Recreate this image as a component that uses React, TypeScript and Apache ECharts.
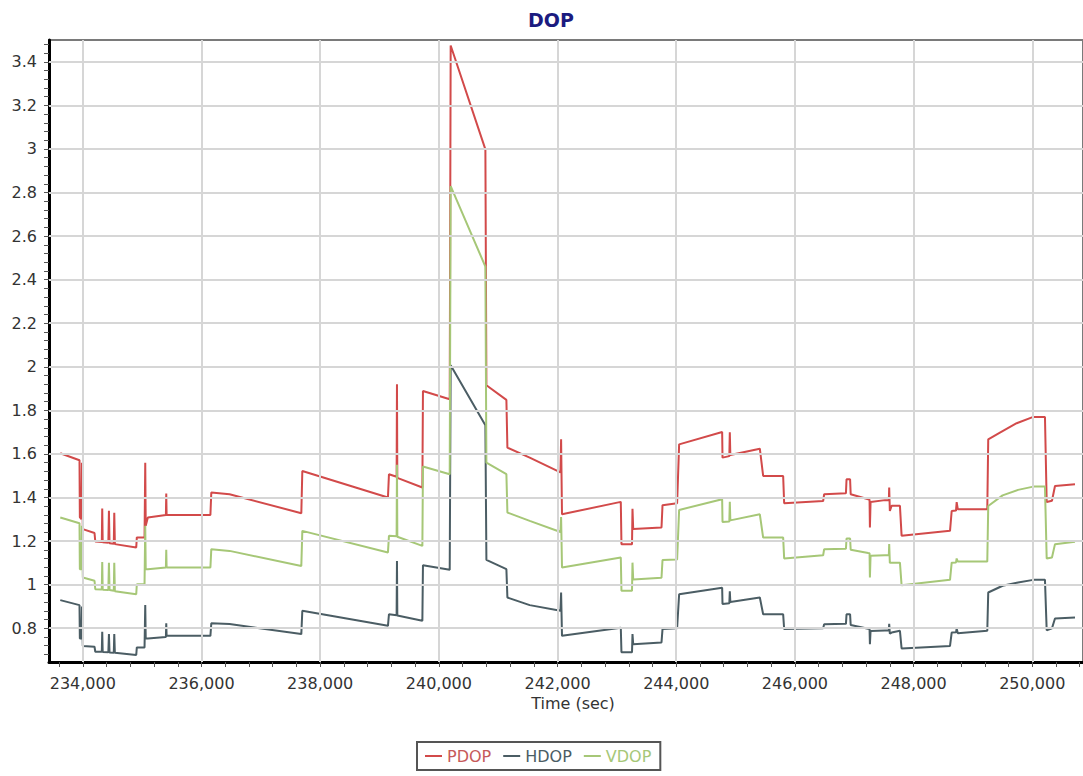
import React, { useEffect, useRef } from "react";
import * as echarts from "echarts";

// ---- data (time in seconds, DOP values) ----
const pdop: [number, number][] = [
  [233620, 1.603], [233944, 1.571], [233950, 1.31], [233975, 1.30], [233985, 1.56], [234000, 1.255],
  [234197, 1.237], [234210, 1.198], [234320, 1.196], [234327, 1.35], [234335, 1.195], [234430, 1.192],
  [234440, 1.339], [234450, 1.19], [234522, 1.188], [234530, 1.33], [234540, 1.186], [234900, 1.171],
  [234910, 1.217], [235040, 1.217], [235052, 1.56], [235060, 1.27], [235096, 1.308], [235400, 1.32],
  [235406, 1.418], [235412, 1.32], [236150, 1.32], [236165, 1.423], [236473, 1.415], [237682, 1.328],
  [237699, 1.522], [239142, 1.40], [239159, 1.507], [239288, 1.495], [239294, 1.92], [239300, 1.49],
  [239722, 1.446], [239732, 1.889], [240183, 1.851], [240199, 3.475], [240784, 2.998], [240801, 1.915],
  [241138, 1.848], [241155, 1.629], [241531, 1.583], [242049, 1.515], [242060, 1.667], [242075, 1.323],
  [243066, 1.38], [243077, 1.186], [243255, 1.186], [243263, 1.348], [243275, 1.255], [243752, 1.262],
  [243769, 1.365], [244015, 1.374], [244049, 1.644], [244774, 1.701], [244780, 1.583], [244895, 1.59],
  [244903, 1.70], [244912, 1.595], [245409, 1.624], [245465, 1.499], [245802, 1.499], [245819, 1.374],
  [246476, 1.384], [246493, 1.415], [246860, 1.42], [246870, 1.484], [246930, 1.484], [246940, 1.415],
  [247235, 1.392], [247258, 1.39], [247264, 1.262], [247275, 1.379], [247517, 1.388], [247583, 1.388],
  [247589, 1.446], [247600, 1.338], [247630, 1.362], [247770, 1.362], [247798, 1.225], [248614, 1.247],
  [248642, 1.338], [248715, 1.34], [248726, 1.379], [248745, 1.346], [249242, 1.346], [249258, 1.667],
  [249455, 1.698], [249737, 1.741], [250017, 1.77], [250214, 1.77], [250243, 1.379], [250332, 1.385],
  [250383, 1.453], [250720, 1.461],
];

const hdop: [number, number][] = [
  [233620, 0.929], [233944, 0.906], [233950, 0.753], [233975, 0.753], [233985, 0.90], [234000, 0.719],
  [234197, 0.715], [234210, 0.692], [234320, 0.692], [234327, 0.784], [234335, 0.691], [234430, 0.69],
  [234440, 0.773], [234450, 0.689], [234522, 0.688], [234530, 0.773], [234540, 0.687], [234900, 0.677],
  [234910, 0.712], [235040, 0.712], [235052, 0.906], [235060, 0.753], [235096, 0.753], [235400, 0.76],
  [235406, 0.823], [235412, 0.765], [236150, 0.765], [236165, 0.823], [236473, 0.819], [237682, 0.773],
  [237699, 0.88], [239142, 0.811], [239159, 0.864], [239288, 0.86], [239294, 1.109], [239300, 0.858],
  [239722, 0.834], [239732, 1.089], [240183, 1.068], [240199, 2.007], [240784, 1.732], [240801, 1.114],
  [241138, 1.071], [241155, 0.941], [241531, 0.906], [242049, 0.88], [242060, 0.964], [242075, 0.765],
  [243066, 0.802], [243077, 0.69], [243255, 0.69], [243263, 0.773], [243275, 0.727], [243752, 0.735],
  [243769, 0.796], [244015, 0.80], [244049, 0.956], [244774, 0.986], [244780, 0.911], [244895, 0.915],
  [244903, 0.97], [244912, 0.92], [245409, 0.941], [245465, 0.864], [245802, 0.864], [245819, 0.796],
  [246476, 0.80], [246493, 0.818], [246860, 0.82], [246870, 0.864], [246930, 0.864], [246940, 0.815],
  [247235, 0.798], [247258, 0.797], [247264, 0.727], [247275, 0.787], [247517, 0.79], [247583, 0.79],
  [247589, 0.82], [247600, 0.775], [247630, 0.78], [247770, 0.788], [247798, 0.707], [248614, 0.719],
  [248642, 0.78], [248715, 0.781], [248726, 0.799], [248745, 0.777], [249242, 0.788], [249258, 0.964],
  [249500, 0.995], [249760, 1.01], [250017, 1.022], [250214, 1.022], [250243, 0.791], [250332, 0.80],
  [250383, 0.845], [250720, 0.849],
];

const vdop: [number, number][] = [
  [233620, 1.308], [233944, 1.282], [233950, 1.071], [233975, 1.071], [233985, 1.27], [234000, 1.033],
  [234197, 1.018], [234210, 0.979], [234320, 0.978], [234327, 1.104], [234335, 0.977], [234430, 0.976],
  [234440, 1.10], [234450, 0.975], [234522, 0.972], [234530, 1.10], [234540, 0.97], [234900, 0.956],
  [234910, 1.002], [235040, 1.002], [235052, 1.27], [235060, 1.071], [235096, 1.071], [235400, 1.079],
  [235406, 1.16], [235412, 1.079], [236150, 1.079], [236165, 1.163], [236473, 1.155], [237682, 1.086],
  [237699, 1.247], [239142, 1.148], [239159, 1.224], [239288, 1.222], [239294, 1.55], [239300, 1.22],
  [239722, 1.178], [239732, 1.542], [240183, 1.507], [240199, 2.829], [240784, 2.46], [240801, 1.56],
  [241138, 1.507], [241155, 1.331], [241531, 1.293], [242049, 1.242], [242060, 1.31], [242075, 1.079],
  [243066, 1.125], [243077, 0.972], [243255, 0.972], [243263, 1.101], [243275, 1.024], [243752, 1.032],
  [243769, 1.113], [244015, 1.116], [244049, 1.343], [244774, 1.392], [244780, 1.288], [244895, 1.29],
  [244903, 1.38], [244912, 1.295], [245409, 1.323], [245465, 1.216], [245802, 1.216], [245819, 1.12],
  [246476, 1.135], [246493, 1.163], [246860, 1.165], [246870, 1.212], [246930, 1.212], [246940, 1.16],
  [247235, 1.145], [247258, 1.144], [247264, 1.033], [247275, 1.133], [247517, 1.135], [247583, 1.135],
  [247589, 1.186], [247600, 1.10], [247630, 1.101], [247770, 1.101], [247798, 0.997], [248614, 1.022],
  [248642, 1.101], [248715, 1.102], [248726, 1.12], [248745, 1.106], [249242, 1.106], [249258, 1.361],
  [249500, 1.41], [249760, 1.435], [250017, 1.45], [250214, 1.45], [250243, 1.12], [250332, 1.125],
  [250383, 1.186], [250720, 1.197],
];

// ---- axis ticks ----
const xLabelValues = [234000, 236000, 238000, 240000, 242000, 244000, 246000, 248000, 250000];
const yLabelValues = [0.8, 1, 1.2, 1.4, 1.6, 1.8, 2, 2.2, 2.4, 2.6, 2.8, 3, 3.2, 3.4];
const X_MIN = 233430;
const X_MAX = 250855;
const Y_MIN = 0.645;
const Y_MAX = 3.5;

const xMinorTicks: number[] = [];
for (let v = 233600; v <= X_MAX; v += 400) xMinorTicks.push(v);
const yMinorTicks: number[] = [];
for (let i = 17; i * 0.04 <= Y_MAX; i++) yMinorTicks.push(Math.round(i * 0.04 * 100) / 100);

const COLORS = { PDOP: "#d24a4a", HDOP: "#4b5d64", VDOP: "#a6c777" };
const FONT = "DejaVu Sans";

export default function App() {
  const ref = useRef<HTMLDivElement>(null);
  useEffect(() => {
    if (!ref.current) return;
    const chart = echarts.init(ref.current, undefined, { renderer: "svg" });
    const lineSeries = (name: "PDOP" | "HDOP" | "VDOP", data: [number, number][]) => ({
      name,
      type: "line",
      data,
      showSymbol: false,
      symbol: "none",
      z: 3,
      lineStyle: { color: COLORS[name], width: 2 },
      itemStyle: { color: COLORS[name] },
    });
    chart.setOption({
      animation: false,
      title: {
        text: "DOP",
        left: 523,
        top: 5,
        textStyle: { color: "#1b1b80", fontWeight: "bold", fontSize: 19, fontFamily: FONT },
      },
      grid: {
        left: 49,
        right: 0,
        top: 40,
        bottom: 114,
        show: true,
        borderColor: "#7a7a7a",
        borderWidth: 2,
        backgroundColor: "#fff",
      },
      legend: {
        left: 417,
        top: 742,
        padding: [6, 9, 6, 8],
        borderColor: "#555",
        borderWidth: 2,
        itemWidth: 17,
        itemHeight: 2,
        itemGap: 12,
        icon: "rect",
        textStyle: { fontSize: 16, fontFamily: FONT },
        data: [
          { name: "PDOP", textStyle: { color: "#c65a5a" } },
          { name: "HDOP", textStyle: { color: "#4b5d64" } },
          { name: "VDOP", textStyle: { color: "#a6c777" } },
        ],
      },
      xAxis: {
        type: "value",
        min: X_MIN,
        max: X_MAX,
        name: "Time (sec)",
        nameLocation: "middle",
        nameGap: 31,
        nameTextStyle: { color: "#333", fontSize: 16, fontFamily: FONT, padding: [0, 0, 0, 14] },
        axisLine: { show: true, onZero: false, lineStyle: { color: "#000", width: 3 } },
        axisTick: { show: true, customValues: xMinorTicks, length: 5, lineStyle: { color: "#555", width: 1 } },
        axisLabel: {
          customValues: xLabelValues,
          margin: 13,
          color: "#333",
          fontSize: 16,
          fontFamily: FONT,
          formatter: (v: number) => v.toLocaleString("en-US"),
        },
        splitLine: { show: false },
      },
      yAxis: {
        type: "value",
        min: Y_MIN,
        max: Y_MAX,
        axisLine: { show: true, onZero: false, lineStyle: { color: "#000", width: 3 } },
        axisTick: { show: true, customValues: yMinorTicks, length: 5, lineStyle: { color: "#555", width: 1 } },
        axisLabel: {
          customValues: yLabelValues,
          margin: 12,
          color: "#333",
          fontSize: 16,
          fontFamily: FONT,
        },
        splitLine: { show: false },
      },
      series: [
        {
          name: "grid",
          type: "line",
          data: [],
          z: 1,
          silent: true,
          markLine: {
            silent: true,
            symbol: ["none", "none"],
            label: { show: false },
            animation: false,
            lineStyle: { color: "#d6d6d6", width: 2, type: "solid" },
            emphasis: { disabled: true },
            data: [
              ...xLabelValues.map((v) => ({ xAxis: v })),
              ...yLabelValues.map((v) => ({ yAxis: v })),
            ],
          },
        },
        lineSeries("PDOP", pdop),
        lineSeries("HDOP", hdop),
        lineSeries("VDOP", vdop),
      ],
    });
    return () => chart.dispose();
  }, []);
  return (
    <div
      ref={ref}
      style={{ position: "absolute", left: 0, top: 0, width: 1083, height: 776, background: "#fff" }}
    />
  );
}
